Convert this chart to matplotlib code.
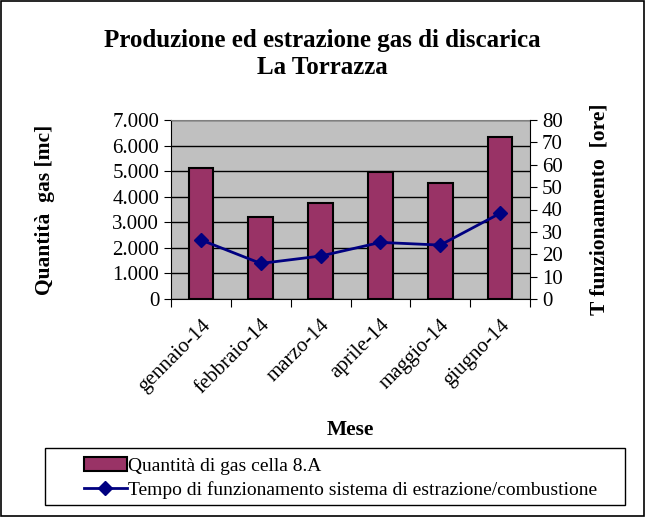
import matplotlib
matplotlib.use("Agg")
import matplotlib.pyplot as plt
from matplotlib.patches import Rectangle
from matplotlib.ticker import FuncFormatter

plt.rcParams['font.family'] = ['Liberation Serif', 'DejaVu Serif']

# dati
mesi = ["gennaio-14", "febbraio-14", "marzo-14", "aprile-14", "maggio-14", "giugno-14"]
gas_mc = [5135, 3220, 3765, 4955, 4525, 6350]
ore_funz = [26.4, 15.9, 19.2, 25.3, 24.1, 38.3]

W, H = 645, 517
fig = plt.figure(figsize=(W / 100, H / 100), dpi=100)

# cornice esterna
fig.patches.append(Rectangle((0.001, 0.001), 0.997, 0.997, transform=fig.transFigure,
                             fill=False, edgecolor="black", linewidth=1.2))

ax = fig.add_axes([171 / W, 1 - 299 / H, 359 / W, 179 / H])
ax.set_facecolor("#C0C0C0")
x = list(range(len(mesi)))

barre = ax.bar(x, gas_mc, width=0.41, color="#993366", edgecolor="black",
               linewidth=1.5, zorder=3, label="Quantità di gas cella 8.A")
ax.set_ylim(0, 7000)
ax.set_yticks(range(0, 7001, 1000))
ax.yaxis.set_major_formatter(FuncFormatter(lambda v, p: "{:,.0f}".format(v).replace(",", ".")))
ax.grid(axis="y", color="black", linewidth=1, zorder=1)
ax.set_xlim(-0.5, len(mesi) - 0.5)

# tick ai bordi delle categorie, etichette al centro
ax.set_xticks([i - 0.5 for i in range(len(mesi) + 1)])
ax.set_xticklabels([])
ax.set_xticks(x, minor=True)
ax.set_xticklabels(mesi, minor=True, rotation=45, ha="right", rotation_mode="anchor", fontsize=15)
ax.tick_params(axis="x", which="minor", length=0, pad=12)
ax.tick_params(axis="x", which="major", length=6, direction="out", color="black")
ax.tick_params(axis="y", labelsize=15, length=5)

ax.spines["right"].set_visible(False)
ax.spines["top"].set_color("#808080")

ax2 = ax.twinx()
linea, = ax2.plot(x, ore_funz, color="#000080", marker="D", markersize=7, linewidth=2,
                  label="Tempo di funzionamento sistema di estrazione/combustione", zorder=5)
ax2.set_ylim(0, 80)
ax2.set_yticks(range(0, 81, 10))
ax2.tick_params(axis="y", labelsize=15, length=5)
ax2.spines["top"].set_visible(False)
ax2.spines["left"].set_visible(False)
ax2.spines["bottom"].set_visible(False)

ax.set_ylabel("Quantità  gas [mc]", fontsize=15.5, fontweight="bold", labelpad=41)
ax2.set_ylabel("T funzionamento  [ore]", fontsize=15.5, fontweight="bold", labelpad=19)
ax.set_xlabel("Mese", fontsize=15.5, fontweight="bold", labelpad=16)

fig.text(0.5, 1 - 40 / H, "Produzione ed estrazione gas di discarica", ha="center", va="center",
         fontsize=18, fontweight="bold")
fig.text(0.5, 1 - 68 / H, "La Torrazza", ha="center", va="center", fontsize=18, fontweight="bold")

# riquadro legenda
fig.patches.append(Rectangle((45 / W, 1 - 505 / H), 580 / W, 57 / H, transform=fig.transFigure,
                             fill=False, edgecolor="black", linewidth=1))
fig.legend([barre, linea], [barre.get_label(), linea.get_label()], loc="center left",
           bbox_to_anchor=(74 / W, 1 - 478 / H), frameon=False, fontsize=14,
           handlelength=2.2, handletextpad=0.1, labelspacing=0.3, borderpad=0)

fig.savefig("out.png", dpi=100)
